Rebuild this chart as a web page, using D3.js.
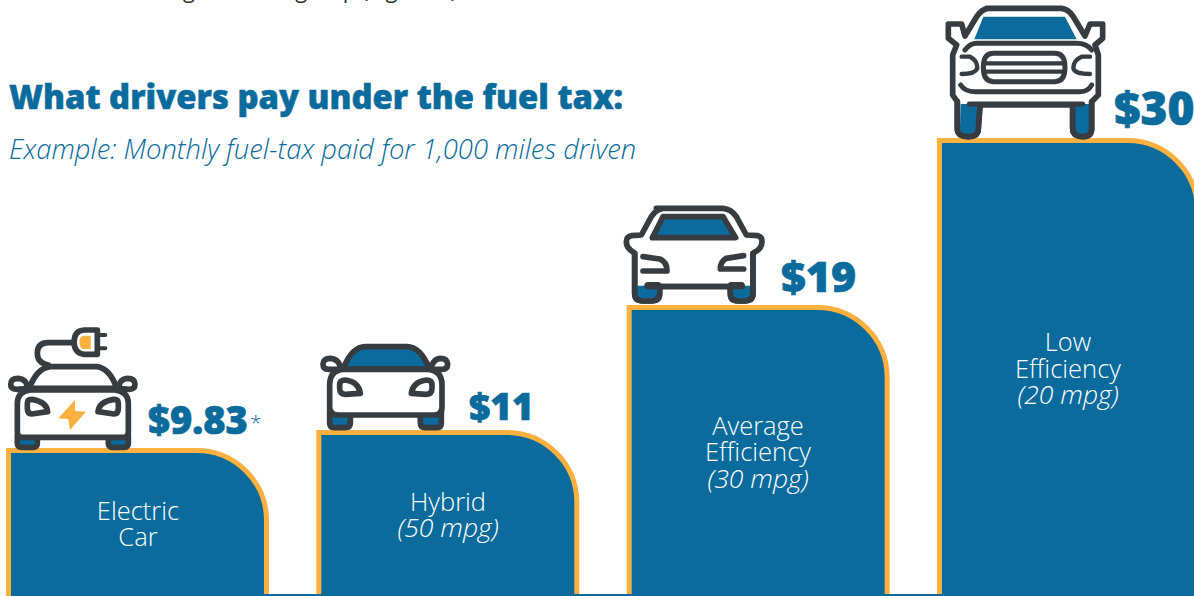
<!DOCTYPE html>
<html><head><meta charset="utf-8">
<script src="https://cdnjs.cloudflare.com/ajax/libs/d3/7.8.5/d3.min.js"></script>
<style>html,body{margin:0;padding:0;background:#fff;overflow:hidden}svg{display:block}text{font-family:"Open Sans",sans-serif}</style>
</head><body><div id="c"></div>
<script>
const categories=["Electric Car","Hybrid","Average Efficiency","Low Efficiency"];
const values=[9.83,11,19,30];
const valueLabels=["$9.83","$11","$19","$30"];
const nameLines=[["Electric","Car"],["Hybrid"],["Average","Efficiency"],["Low","Efficiency"]];
const noteLines=[null,"(50 mpg)","(30 mpg)","(20 mpg)"];
const titleText="What drivers pay under the fuel tax:";
const subtitleText="Example: Monthly fuel-tax paid for 1,000 miles driven";
const clippedText="using a vehicle group (Figure 1)";

const BLUE="#0a6b9c",ORANGE="#fbb040",DARK="#363c3f";
const W=1194,H=596;
const svg=d3.select("#c").append("svg").attr("width",W).attr("height",H);
const x=d3.scaleBand().domain(categories).range([6,1200]).paddingInner(0.1525).paddingOuter(0);
const y=d3.scaleLinear().domain([9.83,11,19,30]).range([448,430,305,138]);

svg.append("text").attr("x",140).attr("y",-2).attr("font-size",22).attr("fill","#333").text(clippedText);
svg.append("text").attr("x",9).attr("y",109).attr("font-size",32.8).attr("font-weight",800).attr("fill",BLUE).attr("stroke",BLUE).attr("stroke-width",0.5).text(titleText);
svg.append("text").attr("x",9).attr("y",159).attr("font-size",27.4).attr("font-style","italic").attr("font-weight",300).attr("fill",BLUE).text(subtitleText);

const R=70;
const bar=svg.selectAll("g.bar").data(categories).join("g").attr("class","bar");
bar.append("path").attr("d",(d,i)=>{
  const l=x(d)+2.5,r=x(d)+x.bandwidth()-2.5,t=y(values[i])+2.5;
  return `M${l} ${H+5}L${l} ${t}L${r-R} ${t}A${R} ${R} 0 0 1 ${r} ${t+R}L${r} ${H+5}`;
}).attr("fill",BLUE).attr("stroke",ORANGE).attr("stroke-width",5);
svg.append("line").attr("x1",262).attr("x2",W).attr("y1",595).attr("y2",595).attr("stroke",BLUE).attr("stroke-width",2);

const nameY=[[520,546],[511],[435,461],[351,378]];
const noteY=[null,537,488,404];
const cx=[138,448,758,1068];
categories.forEach((c,i)=>{
  nameLines[i].forEach((s,k)=>svg.append("text").attr("x",cx[i]).attr("y",nameY[i][k]).attr("text-anchor","middle").attr("font-size",25.5).attr("font-weight",300).attr("fill","#fff").text(s));
  if(noteLines[i])svg.append("text").attr("x",cx[i]).attr("y",noteY[i]).attr("text-anchor","middle").attr("font-size",26.5).attr("font-style","italic").attr("font-weight",300).attr("fill","#fff").text(noteLines[i]);
});
const lx=[148,469,781,1114],ldy=[-14,-10,-13,-13],lsize=[38,37,43,46];
valueLabels.forEach((s,i)=>svg.append("text").attr("x",lx[i]).attr("y",y(values[i])+ldy[i]).attr("font-size",lsize[i]).attr("font-weight",800).attr("fill",BLUE).attr("stroke",BLUE).attr("stroke-width",0.7).text(s));
svg.append("text").attr("x",250).attr("y",430).attr("font-size",21).attr("font-weight",300).attr("fill",BLUE).text("*");

/* icons: local units are 1/3 px */
const P=(g,d,o={})=>g.append("path").attr("d",d).attr("fill",o.fill||"none").attr("stroke",o.stroke===undefined?DARK:o.stroke).attr("stroke-width",o.sw===undefined?17:o.sw).attr("stroke-linecap","round").attr("stroke-linejoin","round");
const icon=(i,dx,dy)=>svg.append("g").attr("transform",`translate(${x(categories[i])+dx},${y(values[i])+dy}) scale(${1/3})`);

/* EV */
let g=icon(0,-6,-128);
P(g,"M52 345L52 370Q52 382 65 382L100 382Q112 382 112 370L112 345Z",{fill:BLUE});
P(g,"M325 345L325 370Q325 382 338 382L372 382Q385 382 385 370L385 345Z",{fill:BLUE});
P(g,"M88 205Q110 145 150 140L290 140Q330 145 350 205Z",{fill:"#fff"});
P(g,"M88 205L50 208Q32 208 32 193Q32 175 55 175Q78 178 80 195",{fill:"#fff"});
P(g,"M350 205L388 208Q405 208 405 193Q405 175 382 175Q360 178 358 195",{fill:"#fff"});
P(g,"M52 250Q52 215 90 210L345 210Q385 215 385 250L385 335Q385 352 368 352L68 352Q52 352 52 335Z",{fill:"#fff"});
P(g,"M82 250Q82 238 95 238Q140 245 143 275L95 282Q82 282 82 265Z",{fill:"#fff"});
P(g,"M355 250Q355 238 342 238Q297 245 294 275L342 282Q355 282 355 265Z",{fill:"#fff"});
P(g,"M220 68L145 68Q112 68 112 100Q112 130 145 135");
P(g,"M292 30L252 30Q222 32 222 68Q224 100 252 103L292 103Z",{fill:"#fff"});
P(g,"M272 47L250 47Q238 50 238 68Q240 85 250 87L272 87Z",{fill:ORANGE,stroke:null,sw:0});
P(g,"M298 45L316 45M298 85L316 85",{sw:12});
P(g,"M225 240L175 295L205 297L210 330L258 275L225 273Z",{fill:ORANGE,stroke:null,sw:0});

/* Hybrid */
g=icon(1,-6,-95);
P(g,"M58 225L58 265Q58 278 72 278L105 278Q120 278 120 265L120 225Z",{fill:BLUE});
P(g,"M330 225L330 265Q330 278 345 278L380 278Q393 278 393 265L393 225Z",{fill:BLUE});
P(g,"M98 102Q125 35 165 35L290 35Q330 35 358 102Z",{fill:BLUE});
P(g,"M95 103L55 103Q38 103 38 87Q40 70 60 70Q82 72 88 90",{fill:"#fff"});
P(g,"M360 103L395 103Q412 103 412 87Q410 70 390 70Q372 72 365 90",{fill:"#fff"});
P(g,"M58 150Q58 105 100 103L350 103Q395 105 395 150L395 215Q395 240 370 240L85 240Q58 240 58 215Z",{fill:"#fff"});
P(g,"M88 150Q88 135 105 135Q145 140 150 175L105 178Q88 178 88 160Z",{fill:"#fff"});
P(g,"M365 150Q365 135 348 135Q308 140 303 175L348 178Q365 178 365 160Z",{fill:"#fff"});

/* Average */
g=icon(2,-17,-110);
P(g,"M140 40L340 40Q365 42 380 65L410 120L445 122Q457 125 457 140Q457 155 445 165L430 175L430 295Q430 318 405 318L385 318Q362 318 362 295L362 275L150 275L150 295Q150 318 125 318L100 318Q75 318 75 295L75 175L62 165Q50 155 50 140Q50 125 65 122L95 120L125 65Q140 42 160 40Z",{fill:"#fff"});
P(g,"M82 272L145 272L145 295Q145 310 125 310L100 310Q82 310 82 295Z",{fill:BLUE,stroke:null,sw:0});
P(g,"M367 272L425 272L425 295Q425 310 405 310L385 310Q367 310 367 295Z",{fill:BLUE,stroke:null,sw:0});
P(g,"M75 175L75 295Q75 318 100 318L125 318Q150 318 150 295L150 275M362 275L362 295Q362 318 385 318L405 318Q430 318 430 295L430 175");
P(g,"M160 65L340 65L378 128L128 128Z",{fill:BLUE});
P(g,"M115 272L395 272",{sw:12});
P(g,"M115 272L145 272M365 272L395 272",{sw:22});
P(g,"M100 185L150 192Q172 200 172 228L100 228");
P(g,"M402 182L350 190Q332 200 332 222L402 222");

/* Low */
g=icon(3,-17,-138);
P(g,"M200 25L425 25Q445 27 460 50L495 108L510 72L548 72L548 115L525 135L535 165L535 285L515 305L515 385Q515 410 490 410Q458 410 458 385L458 315L180 315L175 385Q175 410 145 410Q112 410 112 385L112 305L98 285L98 165L110 135L85 115L85 72L125 72L135 108L170 50Q185 27 205 25Z",{fill:"#fff"});
P(g,"M122 312L175 312L172 385Q172 403 145 403Q120 403 120 385Z",{fill:BLUE,stroke:null,sw:0});
P(g,"M460 312L510 312L510 385Q510 403 488 403Q462 403 462 385Z",{fill:BLUE,stroke:null,sw:0});
P(g,"M112 305L112 385Q112 410 145 410Q175 410 175 385L180 315M458 315L458 385Q458 410 490 410Q515 410 515 385L515 305");
P(g,"M190 50L435 50L470 118L163 118Z",{fill:BLUE,stroke:null,sw:0});
P(g,"M135 150Q150 130 170 130L470 130Q500 130 515 150",{sw:15});
P(g,"M220 160L405 160Q435 160 435 202Q435 245 405 245L220 245Q190 245 190 202Q190 160 220 160Z",{sw:15});
P(g,"M190 190L435 190M190 215L435 215",{sw:13});
P(g,"M125 170L150 170Q172 180 172 205Q165 222 125 222",{sw:13});
P(g,"M510 170L485 170Q460 180 460 205Q465 222 510 222",{sw:13});
P(g,"M122 255Q135 275 165 275L480 275Q505 275 515 255",{sw:15});
P(g,"M148 312L488 312",{sw:15});
</script></body></html>
